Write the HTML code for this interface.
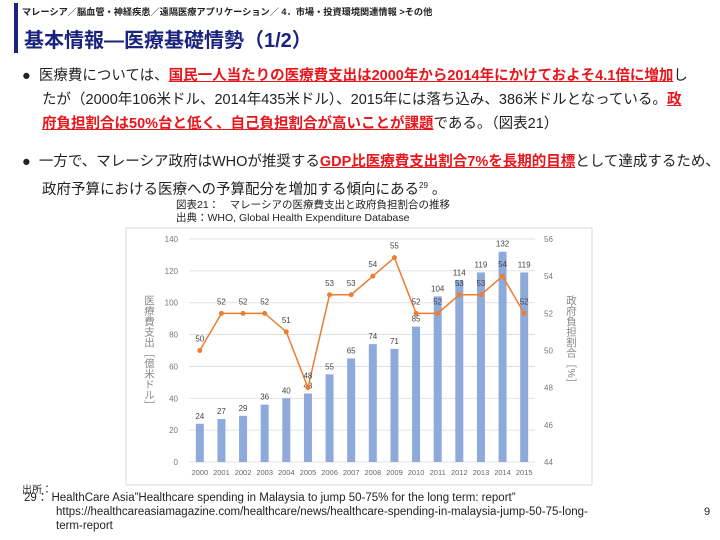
<!DOCTYPE html>
<html><head><meta charset="utf-8">
<style>
body{margin:0;width:720px;height:540px;background:#fff;position:relative;overflow:hidden;font-family:"Liberation Sans","Noto Sans CJK JP",sans-serif;color:#222}
.abs{position:absolute;white-space:nowrap}
.hl{color:#e8161b;font-weight:bold;text-decoration:underline}
.p{font-size:14.5px;line-height:24px}
.vt{writing-mode:vertical-rl;font-size:10.5px;color:#888}
</style></head><body>
<div class="abs" style="left:14px;top:3px;width:4px;height:50px;background:#1a237e"></div>
<div class="abs" style="left:22px;top:4px;font-size:9.2px;font-weight:bold">マレーシア／脳血管・神経疾患／遠隔医療アプリケーション／ 4．市場・投資環境関連情報 &gt;その他</div>
<div class="abs" style="left:24px;top:24px;font-size:20px;font-weight:bold;color:#1a237e">基本情報―医療基礎情勢（1/2）</div>
<div class="abs p" style="left:22px;top:64px">●&nbsp;&nbsp;医療費については、<span class="hl">国民一人当たりの医療費支出は2000年から2014年にかけておよそ4.1倍に増加</span>し</div>
<div class="abs p" style="left:42px;top:88px">たが（2000年106米ドル、2014年435米ドル）、2015年には落ち込み、386米ドルとなっている。<span class="hl">政</span></div>
<div class="abs p" style="left:42px;top:112px"><span class="hl">府負担割合は50%台と低く、自己負担割合が高いことが課題</span>である。（図表21）</div>
<div class="abs p" style="left:22px;top:150px">●&nbsp;&nbsp;一方で、マレーシア政府はWHOが推奨する<span class="hl">GDP比医療費支出割合7%を長期的目標</span>として達成するため、</div>
<div class="abs p" style="left:42px;top:174px">政府予算における医療への予算配分を増加する傾向にある<sup style="font-size:8px">29</sup> 。</div>
<div class="abs" style="left:176px;top:199px;font-size:10.5px;line-height:13px">図表21：　マレーシアの医療費支出と政府負担割合の推移<br>出典：WHO, Global Health Expenditure Database</div>
<svg class="abs" style="left:0;top:0" width="720" height="540">
<rect x="126" y="228" width="466" height="257" fill="#fff" stroke="#d9d9d9"/>
<g id="g"></g>
</svg>
<div class="abs vt" style="left:142px;top:295px">医療費支出［億米ドル］</div>
<div class="abs vt" style="left:564px;top:295px">政府負担割合［%］</div>
<div class="abs" style="left:22px;top:481px;font-size:10px">出所：</div>
<div class="abs" style="left:24px;top:492px;font-size:11.5px;line-height:13.5px">29：&nbsp;HealthCare Asia”Healthcare spending in Malaysia to jump 50-75% for the long term: report”</div>
<div class="abs" style="left:56px;top:506px;font-size:11.5px;line-height:13.5px">https://healthcareasiamagazine.com/healthcare/news/healthcare-spending-in-malaysia-jump-50-75-long-<br>term-report</div>
<div class="abs" style="left:704px;top:506px;font-size:11px">9</div>
<script>
const years=["2000","2001","2002","2003","2004","2005","2006","2007","2008","2009","2010","2011","2012","2013","2014","2015"];
const spend=[24,27,29,36,40,43,55,65,74,71,85,104,114,119,132,119];
const share=[50,52,52,52,51,48,53,53,54,55,52,52,53,53,54,52];
const leftTicks=[0,20,40,60,80,100,120,140];
const rightTicks=[44,46,48,50,52,54,56];
const NS="http://www.w3.org/2000/svg",g=document.getElementById('g');
const X0=189,X1=535,Y0=462,Y1=239;
const band=(X1-X0)/years.length;
const x=i=>X0+band*(i+0.5);
const yL=v=>Y0-(v-0)/(140-0)*(Y0-Y1);
const yR=v=>Y0-(v-44)/(56-44)*(Y0-Y1);
function el(t,a,txt){const e=document.createElementNS(NS,t);for(const k in a)e.setAttribute(k,a[k]);if(txt!=null)e.textContent=txt;g.appendChild(e);return e;}
leftTicks.forEach(v=>{
 const l=el('line',{x1:X0,x2:X1,y1:yL(v),y2:yL(v),stroke:'#d9d9d9','stroke-width':0.8});
 
 
 const t=el('text',{x:178,y:yL(v)+3,'font-size':8,fill:'#777','text-anchor':'end'},v);
 
 
});
rightTicks.forEach(v=>{
 const t=el('text',{x:544,y:yR(v)+3,'font-size':8,fill:'#777'},v);
 
 
});
years.forEach((yr,i)=>{
 const b=el('rect',{x:x(i)-4,y:yL(spend[i]),width:8,height:Y0-yL(spend[i]),fill:'#8eaadb'});
 
 
 const bl=el('text',{x:x(i),y:yL(spend[i])-5,'font-size':8,fill:'#444','text-anchor':'middle'},spend[i]);
 
 
 const t=el('text',{x:x(i),y:475,'font-size':7.5,fill:'#666','text-anchor':'middle'},yr);
 
 
});
const pl=el('polyline',{points:share.map((v,i)=>x(i)+','+yR(v)).join(' '),fill:'none',stroke:'#ed7d31','stroke-width':1.5});


share.forEach((v,i)=>{
 const c=el('circle',{cx:x(i),cy:yR(v),r:2.5,fill:'#ed7d31'});
 
 
 const t=el('text',{x:x(i),y:yR(v)-9,'font-size':8,fill:'#444','text-anchor':'middle'},v);
 
 
});
</script>
</body></html>
